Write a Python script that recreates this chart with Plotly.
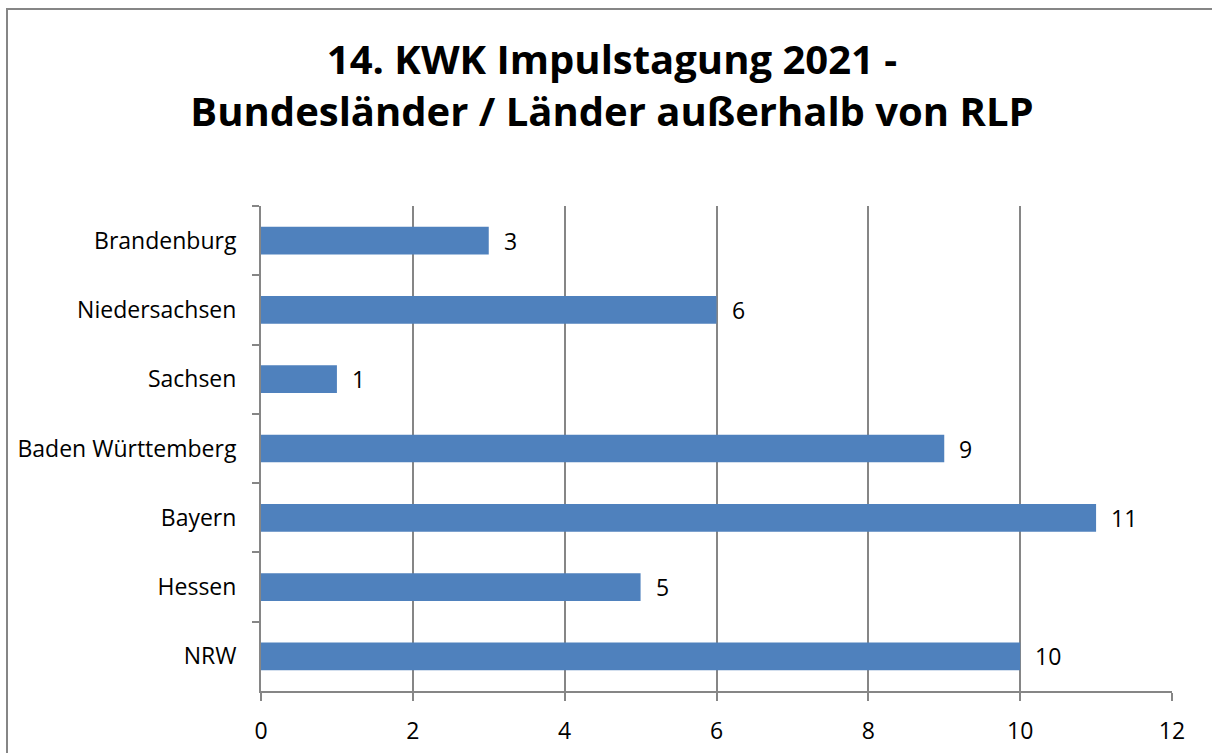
import plotly.graph_objects as go

categories = ["Brandenburg", "Niedersachsen", "Sachsen", "Baden Württemberg", "Bayern", "Hessen", "NRW"]
values = [3, 6, 1, 9, 11, 5, 10]
x_ticks = [0, 2, 4, 6, 8, 10, 12]
title_lines = ["14. KWK Impulstagung 2021 -", "Bundesländer / Länder außerhalb von RLP"]

FONT = "Open Sans"
BAR = "#4F81BD"
GRID = "#868686"

fig = go.Figure()
fig.add_trace(go.Bar(
    x=values, y=categories, orientation="h",
    marker=dict(color=BAR, line=dict(width=0)),
    width=0.4, hoverinfo="x+y",
))

for c, v in zip(categories, values):
    fig.add_annotation(x=v, y=c, xref="x", yref="y", text=str(v), showarrow=False,
                       xanchor="left", yanchor="middle", xshift=13,
                       font=dict(family=FONT, size=23, color="#000000"))

W, H = 1212, 753
L, R, T, B = 261, W - 1172, 206, H - 691
pw, ph = W - L - R, H - T - B

def px(x):
    return (x - L) / pw

def py(y):
    return (H - B - y) / ph

# outer chart border
fig.add_shape(type="rect", xref="paper", yref="paper",
              x0=px(7), x1=px(1230), y0=py(770), y1=py(9),
              line=dict(color=GRID, width=2), fillcolor="rgba(0,0,0,0)", layer="below")

fig.update_layout(
    width=W, height=H, autosize=False,
    margin=dict(l=L, r=R, t=T, b=B, pad=0, autoexpand=False),
    paper_bgcolor="white", plot_bgcolor="white",
    showlegend=False,
    title=dict(text="<br>".join(title_lines), x=612 / W, xref="container", xanchor="center",
               y=1 - 74 / H, yref="container", yanchor="middle", automargin=False,
               font=dict(family=FONT, size=40, color="#000000", weight="bold")),
    font=dict(family=FONT, size=23, color="#000000"),
    xaxis=dict(range=[0, 12], tickvals=x_ticks, showgrid=True, gridcolor=GRID, gridwidth=1.5,
               showline=True, linecolor=GRID, linewidth=2, ticks="outside", ticklen=8,
               tickcolor=GRID, tickwidth=2, zeroline=False, ticklabelstandoff=10,
               automargin=False,
               tickfont=dict(family=FONT, size=23, color="#000000"), fixedrange=True),
    yaxis=dict(categoryorder="array", categoryarray=categories, autorange="reversed",
               showgrid=False, showline=True, linecolor=GRID, linewidth=2,
               ticks="outside", tickson="boundaries", ticklen=7, tickcolor=GRID, tickwidth=2,
               ticklabelstandoff=18, automargin=False,
               tickfont=dict(family=FONT, size=23, color="#000000"), fixedrange=True),
)

fig.write_html("out.html", config={"displayModeBar": False},
               post_script="document.body.style.margin='0';document.body.style.overflow='hidden';")
